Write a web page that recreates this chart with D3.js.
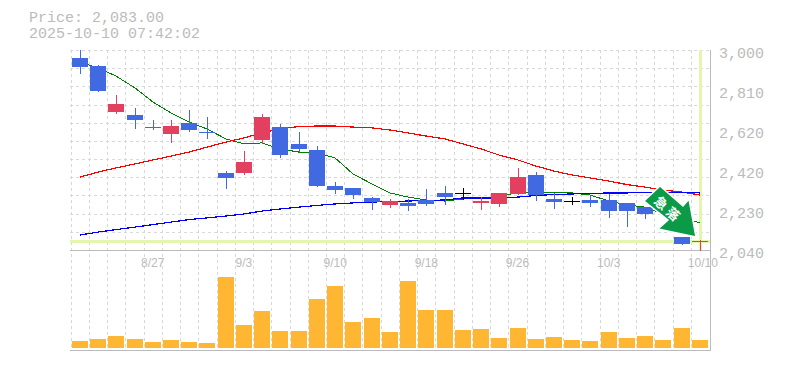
<!DOCTYPE html>
<html>
<head>
<meta charset="utf-8">
<script src="https://cdn.jsdelivr.net/npm/d3@7"></script>
<style>
html, body { margin: 0; padding: 0; background: #fff; overflow: hidden; }
</style>
</head>
<body>
<div id="my_dataviz"></div>
<script>
// quote header
var priceLabel = "Price: 2,083.00"
var timeLabel = "2025-10-10 07:42:02"
var lastPrice = 2083

var dates = ["8/21","8/22","8/25","8/26","8/27","8/28","8/29","9/1","9/2","9/3","9/4","9/5","9/8","9/9","9/10","9/11","9/12","9/16","9/17","9/18","9/19","9/22","9/24","9/25","9/26","9/29","9/30","10/1","10/2","10/3","10/6","10/7","10/8","10/9","10/10"]
var dateTicks = ["8/27","9/3","9/10","9/18","9/26","10/3","10/10"]
var priceTicks = [3000, 2808, 2616, 2424, 2232, 2040]

// daily candles
var open  = [2962,2923,2702,2688,2630,2597,2650,2606,2410,2410,2568,2630,2549,2520,2347,2338,2290,2256,2266,2280,2314,2314,2266,2261,2309,2400,2285,2273,2280,2280,2266,2246,2246,2102,2083]
var high  = [3000,2928,2784,2722,2664,2664,2712,2678,2419,2515,2693,2645,2606,2539,2366,2338,2294,2285,2285,2333,2347,2338,2294,2314,2434,2414,2314,2294,2304,2309,2266,2246,2246,2102,2088]
var low   = [2890,2803,2698,2626,2621,2558,2611,2578,2338,2405,2554,2486,2515,2347,2314,2290,2237,2246,2232,2256,2261,2285,2237,2251,2309,2280,2242,2261,2251,2198,2155,2194,2232,2069,2040]
var close = [2918,2803,2741,2664,2626,2635,2616,2602,2386,2462,2678,2496,2525,2347,2328,2304,2270,2275,2251,2261,2294,2314,2275,2314,2390,2304,2270,2273,2266,2227,2227,2213,2232,2069,2083]

// moving averages
var maShort = [2942,2914,2875,2818,2750,2698,2654,2621,2573,2549,2554,2525,2510,2506,2482,2405,2357,2314,2294,2280,2275,2285,2290,2294,2318,2318,2314,2314,2304,2275,2256,2246,2213,2194,2170]
var maMid   = [2390,2414,2434,2453,2472,2491,2510,2534,2558,2578,2602,2621,2633,2635,2635,2630,2626,2616,2602,2587,2573,2549,2525,2496,2472,2443,2419,2400,2386,2371,2354,2342,2328,2318,2304]
var maLong  = [2112,2126,2138,2150,2162,2174,2186,2194,2203,2213,2227,2237,2246,2254,2261,2266,2270,2273,2275,2278,2280,2290,2290,2290,2294,2302,2306,2309,2311,2314,2314,2316,2316,2316,2314]

var volume = [7,9,12,9,6,8,6,5,71,23,37,17,17,49,62,26,30,16,67,38,38,18,19,10,20,9,11,8,7,16,10,12,8,20,8]

var signalText = ["急","落"]

var width = 785, height = 370
var left = 70.7, right = 709, priceTop = 50, priceBottom = 250, volTop = 277, volBottom = 348, chartBottom = 350
var gridColor = "#d8d8d8", axisColor = "#bbb", textColor = "#bbb"
var upColor = "#e34060", downColor = "#4169e1", evenColor = "#000"

var svg = d3.select("#my_dataviz")
.append("svg")
.attr("width", width)
.attr("height", height)
.style("display", "block")

var x = d3.scaleBand().domain(dates).range([left, right])
var y = d3.scaleLinear().domain([2040, 3000]).range([priceBottom, priceTop])
var yVol = d3.scaleLinear().domain([0, 71]).range([volBottom, volTop])

function cx(i) { return Math.round(x(dates[i]) + x.bandwidth() / 2) }

svg.append("defs").append("clipPath").attr("id", "plot")
.append("rect").attr("x", 70).attr("y", priceTop).attr("width", 640).attr("height", priceBottom - priceTop + 1)

// grid, one line per day and 11 rows
var gridXs = dates.map(function(d) { return Math.round(x(d)) })
svg.append("g").selectAll("line")
.data(gridXs)
.enter().append("line")
.attr("x1", function(d) { return d + 0.5 })
.attr("x2", function(d) { return d + 0.5 })
.attr("y1", priceTop)
.attr("y2", chartBottom)
.attr("stroke", gridColor)
.attr("stroke-dasharray", "3,3")

svg.append("g").selectAll("line")
.data(d3.range(0, 11))
.enter().append("line")
.attr("x1", 70)
.attr("x2", 710)
.attr("y1", function(d) { return Math.round(priceTop + d * (priceBottom - priceTop) / 11) + 0.5 })
.attr("y2", function(d) { return Math.round(priceTop + d * (priceBottom - priceTop) / 11) + 0.5 })
.attr("stroke", gridColor)
.attr("stroke-dasharray", "3,3")

// frame
svg.append("path")
.attr("d", "M70," + (priceBottom + 0.5) + "H710.5M70," + (chartBottom + 0.5) + "H710.5M710.5," + priceTop + "V" + (chartBottom + 1))
.attr("fill", "none")
.attr("stroke", axisColor)

// last price cross hair
svg.append("rect").attr("x", 70).attr("y", Math.round(y(lastPrice)) - 1).attr("width", 640).attr("height", 3).attr("fill", "#e4f5ae")
svg.append("rect").attr("x", cx(34) - 1).attr("y", priceTop).attr("width", 3).attr("height", 200).attr("fill", "#e4f5ae")

// moving average lines
var line = d3.line()
.x(function(d, i) { return cx(i) })
.y(function(d) { return y(d) })

var lines = svg.append("g").attr("clip-path", "url(#plot)")
lines.append("path").datum(maShort).attr("d", line).attr("fill", "none").attr("stroke", "#008000").attr("stroke-width", 1).attr("shape-rendering", "crispEdges")
lines.append("path").datum(maMid).attr("d", line).attr("fill", "none").attr("stroke", "#f00").attr("stroke-width", 1.2).attr("shape-rendering", "crispEdges")
lines.append("path").datum(maLong).attr("d", line).attr("fill", "none").attr("stroke", "#00f").attr("stroke-width", 1.2).attr("shape-rendering", "crispEdges")

// candles
function candleColor(i) {
    if (i == 34) return upColor
    if (close[i] > open[i]) return upColor
    if (close[i] < open[i]) return downColor
    return evenColor
}

var candles = svg.append("g").attr("clip-path", "url(#plot)").attr("shape-rendering", "crispEdges")
candles.selectAll(".wick")
.data(d3.range(dates.length))
.enter().append("line")
.attr("class", "wick")
.attr("x1", function(i) { return cx(i) + 0.5 })
.attr("x2", function(i) { return cx(i) + 0.5 })
.attr("y1", function(i) { return Math.round(y(high[i])) })
.attr("y2", function(i) { return Math.round(y(low[i])) + 1 })
.attr("stroke", candleColor)

candles.selectAll(".body")
.data(d3.range(dates.length))
.enter().append("rect")
.attr("class", "body")
.attr("x", function(i) { return cx(i) - 8 })
.attr("y", function(i) { return Math.round(y(Math.max(open[i], close[i]))) })
.attr("width", 16)
.attr("height", function(i) { return Math.max(1, Math.round(y(Math.min(open[i], close[i]))) - Math.round(y(Math.max(open[i], close[i])))) })
.attr("fill", candleColor)

// volume
svg.append("g").attr("shape-rendering", "crispEdges").selectAll("rect")
.data(volume)
.enter().append("rect")
.attr("x", function(d, i) { return cx(i) - 8 })
.attr("y", function(d) { return Math.round(yVol(d)) })
.attr("width", 16)
.attr("height", function(d) { return volBottom - Math.round(yVol(d)) })
.attr("fill", "#ffb733")

// axes, only the labels are visible
var priceAxis = d3.axisRight(y).tickValues(priceTicks).tickSize(0).tickPadding(0)
.tickFormat(function(d) { return d3.format(",")(Math.round(d / 10) * 10) })
var gPrice = svg.append("g").attr("transform", "translate(719,0)").call(priceAxis)
gPrice.select(".domain").remove()
gPrice.selectAll("text")
.attr("dy", "0.62em")
.attr("y", -2)
.style("font-family", "'Liberation Mono', monospace")
.style("font-size", "15px")
.style("fill", textColor)

var dateAxis = d3.axisBottom(x).tickValues(dateTicks).tickSize(0).tickPadding(0)
var gDate = svg.append("g").attr("transform", "translate(0,258)").call(dateAxis)
gDate.select(".domain").remove()
gDate.selectAll("text")
.attr("dy", "0.71em")
.attr("dx", function(d) { return d == "10/10" ? 3 : 0 })
.style("font-family", "'Liberation Sans', sans-serif")
.style("font-size", "12px")
.style("fill", textColor)

// header text
svg.append("text").attr("x", 29).attr("y", 22).text(priceLabel)
.style("font-family", "'Liberation Mono', monospace").style("font-size", "15px").style("fill", textColor)
svg.append("text").attr("x", 29).attr("y", 38).text(timeLabel)
.style("font-family", "'Liberation Mono', monospace").style("font-size", "15px").style("fill", textColor)

// signal arrow
var arrowShape = [[660,186],[683,206],[689,199],[696,237],[658,229],[668,220],[644,201]]
svg.append("polygon")
.attr("points", arrowShape.join(" "))
.attr("fill", "#0a9a48")
.attr("stroke", "#fff")
.attr("stroke-width", 1.5)

var signalPos = [[661,203],[673,214]]
svg.append("g").selectAll("text")
.data(signalText)
.enter().append("text")
.attr("transform", function(d, i) { return "translate(" + signalPos[i][0] + "," + signalPos[i][1] + ") rotate(42)" })
.attr("text-anchor", "middle")
.attr("dy", "0.36em")
.text(function(d) { return d })
.style("font-family", "'Noto Sans CJK JP', sans-serif")
.style("font-weight", "700")
.style("font-size", "13px")
.style("fill", "#fff")
</script>
</body>
</html>
